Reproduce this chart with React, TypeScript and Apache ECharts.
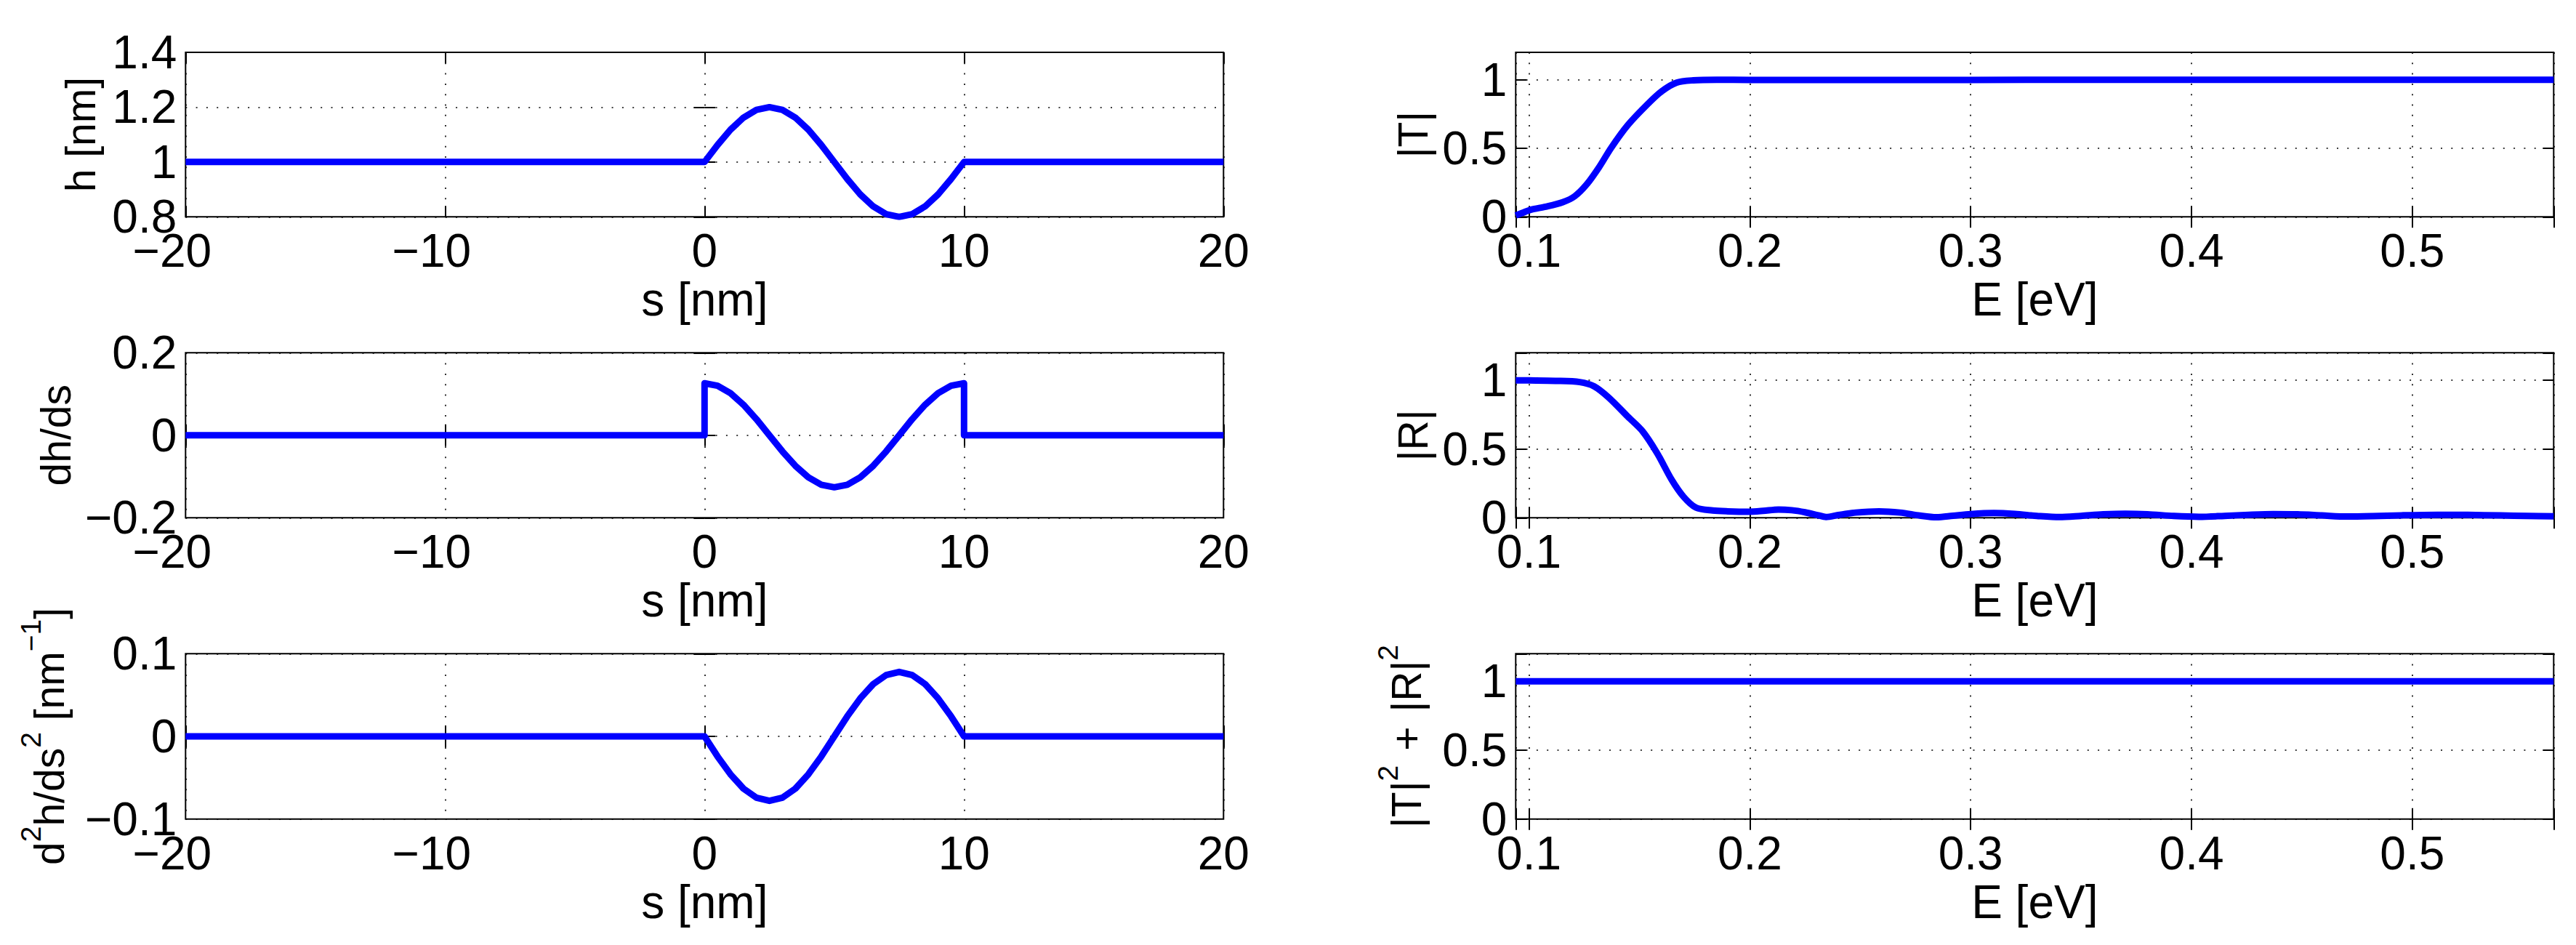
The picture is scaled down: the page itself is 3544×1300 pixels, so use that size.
import React, { useEffect, useRef } from "react";
import * as echarts from "echarts";

// ---------------- data ----------------
// profile h(s)
const sProfile = [-20, 0, 0.5, 1, 1.5, 2, 2.5, 3, 3.5, 4, 4.5, 5, 5.5, 6, 6.5, 7, 7.5, 8, 8.5, 9, 9.5, 10, 20];
const hValues = [1, 1, 1.062, 1.118, 1.162, 1.19, 1.2, 1.19, 1.162, 1.118, 1.062, 1, 0.938, 0.882, 0.838, 0.81, 0.8, 0.81, 0.838, 0.882, 0.938, 1, 1];
// first derivative (vertical jumps at s = 0 and s = 10)
const sSlope = [-20, 0, 0, 0.5, 1, 1.5, 2, 2.5, 3, 3.5, 4, 4.5, 5, 5.5, 6, 6.5, 7, 7.5, 8, 8.5, 9, 9.5, 10, 10, 20];
const dhValues = [0, 0, 0.126, 0.12, 0.102, 0.074, 0.039, 0, -0.039, -0.074, -0.102, -0.12, -0.126, -0.12, -0.102, -0.074, -0.039, 0, 0.039, 0.074, 0.102, 0.12, 0.126, 0, 0];
// second derivative
const d2hValues = [0, 0, -0.0242, -0.0459, -0.0632, -0.0742, -0.078, -0.0742, -0.0632, -0.0459, -0.0242, 0, 0.0242, 0.0459, 0.0632, 0.0742, 0.078, 0.0742, 0.0632, 0.0459, 0.0242, 0, 0];

// |T|(E)
const tEnergy = [0.094, 0.098, 0.101, 0.1076, 0.1152, 0.1207, 0.1262, 0.1317, 0.1372, 0.1448, 0.1536, 0.1602, 0.1668, 0.1744, 0.185, 0.2, 0.25, 0.3, 0.35, 0.4, 0.45, 0.5, 0.564];
const tValues = [0.01, 0.035, 0.053, 0.074, 0.106, 0.15, 0.238, 0.361, 0.503, 0.67, 0.82, 0.917, 0.979, 0.996, 1.0, 0.999, 0.999, 0.999, 1.0, 1.0, 1.0, 1.0, 1.0];
// |R|(E)
const rEnergy = [0.094, 0.1, 0.112, 0.123, 0.1295, 0.136, 0.1448, 0.1514, 0.158, 0.1646, 0.17, 0.1756, 0.1832, 0.19, 0.1997, 0.206, 0.213, 0.219, 0.225, 0.231, 0.2345, 0.24, 0.248, 0.2585, 0.268, 0.277, 0.2845, 0.292, 0.3, 0.3105, 0.32, 0.33, 0.3402, 0.35, 0.36, 0.37, 0.38, 0.392, 0.4034, 0.415, 0.426, 0.437, 0.448, 0.459, 0.4704, 0.482, 0.495, 0.5113, 0.525, 0.54, 0.552, 0.564];
const rValues = [1.0, 0.999, 0.996, 0.987, 0.956, 0.876, 0.735, 0.63, 0.471, 0.277, 0.153, 0.074, 0.053, 0.047, 0.044, 0.05, 0.06, 0.055, 0.04, 0.018, 0.006, 0.02, 0.038, 0.047, 0.038, 0.016, 0.004, 0.015, 0.027, 0.034, 0.028, 0.014, 0.005, 0.014, 0.025, 0.03, 0.026, 0.013, 0.007, 0.014, 0.022, 0.027, 0.025, 0.017, 0.009, 0.012, 0.018, 0.022, 0.021, 0.017, 0.013, 0.011];
// |T|^2 + |R|^2
const sumEnergy = [0.094, 0.2, 0.3, 0.4, 0.5, 0.564];
const sumValues = [1, 1, 1, 1, 1, 1];

// tick labels
const sTicks = [-20, -10, 0, 10, 20];
const hTicks = [0.8, 1, 1.2, 1.4];
const dhTicks = [-0.2, 0, 0.2];
const d2hTicks = [-0.1, 0, 0.1];
const eTicks = [0.1, 0.2, 0.3, 0.4, 0.5];
const unitTicks = [0, 0.5, 1];

// ---------------- styling ----------------
const FONT = "'Liberation Sans', Arial, Helvetica, sans-serif";
const BLUE = "#0000ff";
const TICK_FS = 64;
const YNAME_FS = 57;

const zip = (xs: number[], ys: number[]) => xs.map((x, i) => [x, ys[i]]);
const round = (v: number) => Math.round(v * 1e6) / 1e6;
const inList = (list: number[], v: number) => list.some((t) => Math.abs(t - v) < 1e-7);
const minusFmt = (r: number) => (r < 0 ? "\u2212" + String(-r) : String(r));

type Panel = {
  left: number;
  top: number;
  height: number;
  xMin: number;
  xMax: number;
  xInterval?: number;
  xTicks: number[];
  xMinusPad: boolean;
  yMin: number;
  yMax: number;
  yInterval: number;
  yTicks: number[];
  xName: string;
  yName: string;
  yNameGap: number;
  yNameLH: number;
  data: number[][];
  smooth: number | boolean;
};

const W = 1428;
const LEFT_X = 255.3;
const RIGHT_X = 2085.3;
const TOPS = [72, 485.3, 899.3];
const HEIGHTS = [226.3, 227, 227.4];

const panels: Panel[] = [
  {
    left: LEFT_X, top: TOPS[0], height: HEIGHTS[0],
    xMin: -20, xMax: 20, xInterval: 10, xTicks: sTicks, xMinusPad: true,
    yMin: 0.8, yMax: 1.4, yInterval: 0.2, yTicks: hTicks,
    xName: "s [nm]", yName: "h [nm]", yNameGap: 116, yNameLH: YNAME_FS,
    data: zip(sProfile, hValues), smooth: false,
  },
  {
    left: RIGHT_X, top: TOPS[0], height: HEIGHTS[0],
    xMin: 0.094, xMax: 0.564, xTicks: eTicks, xMinusPad: false,
    yMin: 0, yMax: 1.2, yInterval: 0.5, yTicks: unitTicks,
    xName: "E [eV]", yName: "|T|", yNameGap: 113, yNameLH: YNAME_FS,
    data: zip(tEnergy, tValues), smooth: 0.3,
  },
  {
    left: LEFT_X, top: TOPS[1], height: HEIGHTS[1],
    xMin: -20, xMax: 20, xInterval: 10, xTicks: sTicks, xMinusPad: true,
    yMin: -0.2, yMax: 0.2, yInterval: 0.2, yTicks: dhTicks,
    xName: "s [nm]", yName: "dh/ds", yNameGap: 150, yNameLH: YNAME_FS,
    data: zip(sSlope, dhValues), smooth: false,
  },
  {
    left: RIGHT_X, top: TOPS[1], height: HEIGHTS[1],
    xMin: 0.094, xMax: 0.564, xTicks: eTicks, xMinusPad: false,
    yMin: 0, yMax: 1.2, yInterval: 0.5, yTicks: unitTicks,
    xName: "E [eV]", yName: "|R|", yNameGap: 113, yNameLH: YNAME_FS,
    data: zip(rEnergy, rValues), smooth: 0.3,
  },
  {
    left: LEFT_X, top: TOPS[2], height: HEIGHTS[2],
    xMin: -20, xMax: 20, xInterval: 10, xTicks: sTicks, xMinusPad: true,
    yMin: -0.1, yMax: 0.1, yInterval: 0.1, yTicks: d2hTicks,
    xName: "s [nm]", yName: "d{sup|2}h/ds{sup|2} [nm{sup|\u22121}]", yNameGap: 123, yNameLH: 90,
    data: zip(sProfile, d2hValues), smooth: false,
  },
  {
    left: RIGHT_X, top: TOPS[2], height: HEIGHTS[2],
    xMin: 0.094, xMax: 0.564, xTicks: eTicks, xMinusPad: false,
    yMin: 0, yMax: 1.2, yInterval: 0.5, yTicks: unitTicks,
    xName: "E [eV]", yName: "|T|{sup|2}{op|+}|R|{sup|2}", yNameGap: 99, yNameLH: 90,
    data: zip(sumEnergy, sumValues), smooth: false,
  },
];

const tickStyle = { show: true, inside: true, length: 15, lineStyle: { color: "#000", width: 2 } };
const gridLine = { show: true, lineStyle: { color: "#000", width: 1.6, type: [2, 12.3] } };

function buildOption() {
  const grid: any[] = [];
  const xAxis: any[] = [];
  const yAxis: any[] = [];
  const series: any[] = [];

  panels.forEach((p, g) => {
    grid.push({
      left: p.left, top: p.top, width: W, height: p.height,
      show: true, borderColor: "#000", borderWidth: 2, backgroundColor: "#fff",
      containLabel: false, outerBoundsMode: "none",
    });
    const xBase: any = { type: "value", gridIndex: g, min: p.xMin, max: p.xMax };
    if (p.xInterval !== undefined) xBase.interval = p.xInterval;
    else xBase.splitNumber = 5;

    xAxis.push({
      ...xBase,
      position: "bottom",
      axisLine: { show: false },
      axisTick: tickStyle,
      splitLine: gridLine,
      axisLabel: {
        show: true, margin: 15, fontSize: TICK_FS, fontFamily: FONT, color: "#000",
        showMinLabel: true, showMaxLabel: true,
        formatter: (v: number) => {
          const r = round(v);
          if (!inList(p.xTicks, r)) return "";
          if (p.xMinusPad && r < 0) return "\u2212" + String(-r) + "{pad| }";
          return minusFmt(r);
        },
        rich: { pad: { width: 37, fontSize: TICK_FS, fontFamily: FONT } },
      },
      name: p.xName,
      nameLocation: "middle",
      nameGap: 82,
      nameTextStyle: { fontSize: TICK_FS, fontFamily: FONT, color: "#000" },
    });
    xAxis.push({
      ...xBase,
      position: "top",
      axisLine: { show: false },
      axisTick: tickStyle,
      splitLine: { show: false },
      axisLabel: { show: false },
    });

    const yBase: any = { type: "value", gridIndex: g, min: p.yMin, max: p.yMax, interval: p.yInterval };
    yAxis.push({
      ...yBase,
      position: "left",
      axisLine: { show: false },
      axisTick: tickStyle,
      splitLine: gridLine,
      axisLabel: {
        show: true, margin: 12, fontSize: TICK_FS, fontFamily: FONT, color: "#000",
        formatter: (v: number) => {
          const r = round(v);
          return inList(p.yTicks, r) ? minusFmt(r) : "";
        },
      },
      name: p.yName,
      nameLocation: "middle",
      nameGap: p.yNameGap,
      nameTextStyle: {
        fontSize: YNAME_FS, fontFamily: FONT, color: "#000", lineHeight: p.yNameLH,
        rich: {
          sup: { fontSize: 39, fontFamily: FONT, color: "#000", lineHeight: 20, verticalAlign: "top" },
          op: { fontSize: YNAME_FS, fontFamily: FONT, color: "#000", lineHeight: p.yNameLH, padding: [0, 20] },
        },
      },
    });
    yAxis.push({
      ...yBase,
      position: "right",
      axisLine: { show: false },
      axisTick: tickStyle,
      splitLine: { show: false },
      axisLabel: { show: false },
    });

    series.push({
      type: "line",
      xAxisIndex: 2 * g,
      yAxisIndex: 2 * g,
      data: p.data,
      showSymbol: false,
      symbol: "none",
      smooth: p.smooth,
      clip: true,
      lineStyle: { color: BLUE, width: 9, join: "round", cap: "butt" },
      emphasis: { disabled: true },
      z: 3,
    });
  });

  return {
    animation: false,
    backgroundColor: "#fff",
    grid,
    xAxis,
    yAxis,
    series,
  };
}

export default function App() {
  const ref = useRef<HTMLDivElement | null>(null);
  useEffect(() => {
    if (!ref.current) return;
    const chart = echarts.init(ref.current, undefined, { renderer: "svg" });
    chart.setOption(buildOption() as any);
    return () => chart.dispose();
  }, []);
  return (
    <div
      ref={ref}
      style={{ position: "fixed", left: 0, top: 0, width: 3544, height: 1300, background: "#fff" }}
    />
  );
}
